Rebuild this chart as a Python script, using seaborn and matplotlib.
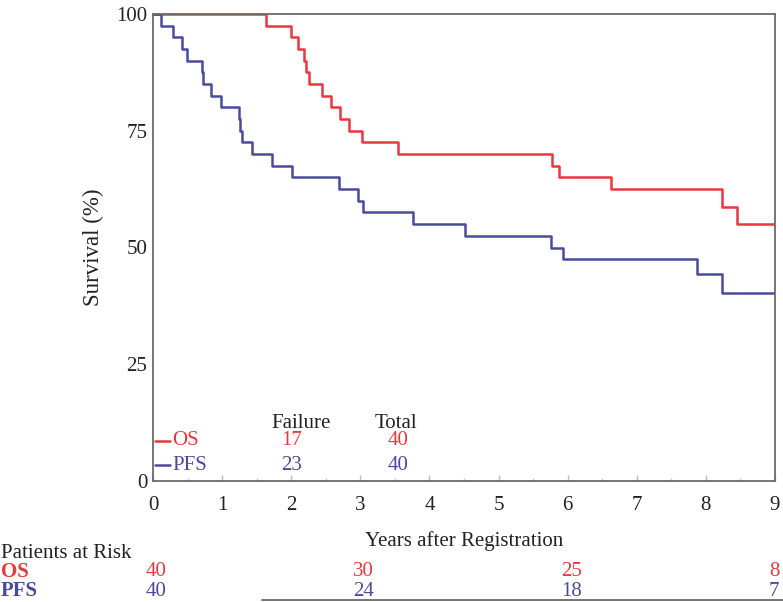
import numpy as np
import pandas as pd
import matplotlib
matplotlib.use("Agg")
import matplotlib.pyplot as plt
import matplotlib.transforms as mtransforms
from matplotlib.lines import Line2D
import seaborn as sns

# ---------------- data ----------------
os_time = [0, 1.63, 2.00, 2.10, 2.19, 2.21, 2.26, 2.45, 2.58, 2.70, 2.84, 3.03, 3.55,
           5.77, 5.875, 6.62, 8.23, 8.455, 9.0]
os_surv = [100, 97.5, 95, 92.5, 90, 87.5, 85, 82.5, 80, 77.5, 75, 72.5, 70,
           67.5, 65, 62.5, 58.75, 55.0, 55.0]

pfs_time = [0, 0.111, 0.285, 0.415, 0.487, 0.704, 0.728, 0.834, 0.984, 1.244, 1.264, 1.283,
            1.428, 1.717, 2.016, 2.691, 2.971, 3.043, 3.757, 4.515, 5.754, 5.937, 7.876, 8.233, 9.0]
pfs_surv = [100, 97.5, 95, 92.5, 90, 87.5, 85, 82.5, 80, 77.5, 75, 72.5,
            70, 67.5, 65, 62.5, 60, 57.5, 55, 52.5, 50, 47.5, 44.3, 40.3, 40.3]

groups = ["OS", "PFS"]
failures = [17, 23]
totals = [40, 40]

risk_times = [0, 3, 6, 9]
os_risk = [40, 30, 25, 8]
pfs_risk = [40, 24, 18, 7]

x_ticks = list(range(0, 10))
y_ticks = [0, 25, 50, 75, 100]

colors = {"OS": "#e8373e", "PFS": "#4b4b9c"}
text_colors = {"OS": "#e8383d", "PFS": "#4a4a96"}

df = pd.concat([
    pd.DataFrame({"time": os_time, "surv": os_surv, "group": "OS"}),
    pd.DataFrame({"time": pfs_time, "surv": pfs_surv, "group": "PFS"}),
], ignore_index=True)

# ---------------- style ----------------
sns.set_theme(style="white")
plt.rcParams["font.family"] = ["Liberation Serif", "DejaVu Serif"]
FS = 15

fig = plt.figure(figsize=(7.83, 6.02), dpi=100)
ax = fig.add_axes([153 / 783, 1 - 481 / 602, (775 - 153) / 783, (481 - 14) / 602])

sns.lineplot(data=df, x="time", y="surv", hue="group", palette=colors,
             drawstyle="steps-post", estimator=None, legend=False,
             linewidth=1.8, ax=ax)

ax.set_xlim(0, 9)
ax.set_ylim(0, 100)
ax.set_xticks(x_ticks)
ax.set_xticks(np.arange(0.5, 9, 1.0), minor=True)
ax.set_yticks(y_ticks)
ax.set_xticklabels([str(t) for t in x_ticks], fontsize=FS, color="#222222")
ax.set_yticklabels([str(t) for t in y_ticks], fontsize=FS, color="#222222")
ax.tick_params(axis="x", which="major", direction="in", length=4, width=1,
               color="#bbbbbb", pad=11, bottom=True)
ax.tick_params(axis="x", which="minor", direction="in", length=2.5, width=1,
               color="#cccccc", bottom=True)
ax.tick_params(axis="y", which="both", length=0, pad=4, left=True)
for s in ax.spines.values():
    s.set_color("#6a6a6a")
    s.set_linewidth(1.3)
ax.set_xlabel("")
ax.set_ylabel("Survival (%)", fontsize=16.5, color="#222222", labelpad=9)

# ---------------- legend table ----------------
ax.text(2.14, 12.4, "Failure", fontsize=FS, ha="center", va="center", color="#222222")
ax.text(3.52, 12.4, "Total", fontsize=FS, ha="center", va="center", color="#222222")
leg_y = [8.6, 3.4]
for g, fval, tval, yy in zip(groups, failures, totals, leg_y):
    ax.add_line(Line2D([0.03, 0.24], [yy, yy], color=colors[g], linewidth=1.8))
    ax.text(0.28, yy, g, fontsize=FS, ha="left", va="center", color=text_colors[g])
    ax.text(2.01, yy, str(fval), fontsize=FS, ha="center", va="center", color=text_colors[g])
    ax.text(3.55, yy, str(tval), fontsize=FS, ha="center", va="center", color=text_colors[g])

# ---------------- below-axis texts ----------------
fig.text(464 / 783, 1 - 541 / 602, "Years after Registration", fontsize=FS,
         ha="center", va="center", color="#222222")
fig.text(1 / 783, 1 - 553 / 602, "Patients at Risk", fontsize=FS,
         ha="left", va="center", color="#222222")

blend = mtransforms.blended_transform_factory(ax.transData, fig.transFigure)
row_y = {"OS": 1 - 572 / 602, "PFS": 1 - 591 / 602}
for g, vals in zip(groups, [os_risk, pfs_risk]):
    fig.text(1 / 783, row_y[g], g, fontsize=FS, fontweight="bold",
             ha="left", va="center", color=text_colors[g])
    for t, v in zip(risk_times, vals):
        ha = "right" if t == risk_times[-1] else "center"
        xx = t + 0.06 if t == risk_times[-1] else t + 0.05
        ax.text(xx, row_y[g], str(v), fontsize=FS, ha=ha, va="center",
                color=text_colors[g], transform=blend, clip_on=False)

fig.add_artist(Line2D([262 / 783, 1.0], [1 - 600 / 602, 1 - 600 / 602],
                      color="#6a6a6a", linewidth=1.3, transform=fig.transFigure))

fig.savefig("out.png", dpi=100, facecolor="white")
